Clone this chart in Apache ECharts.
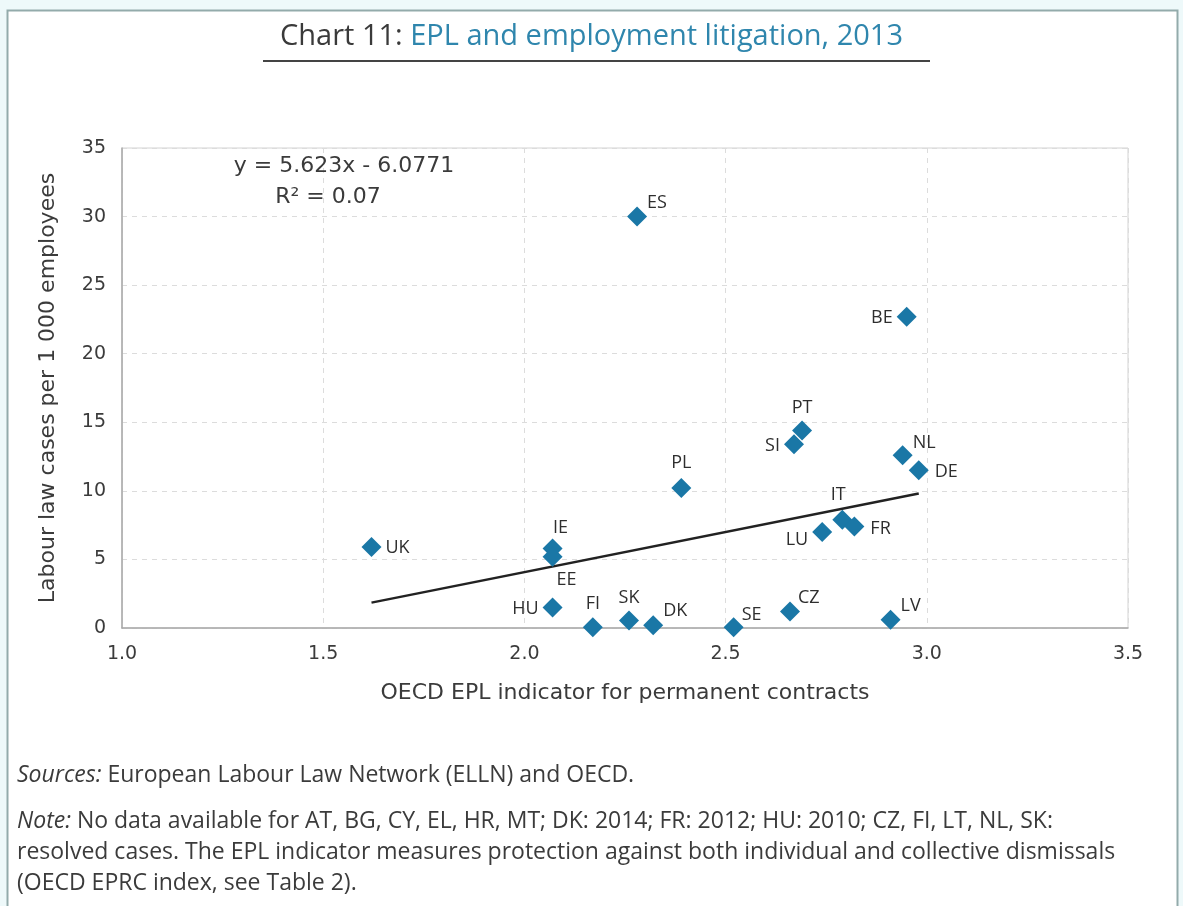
<!DOCTYPE html>
<html lang="en">
<head>
  <meta charset="UTF-8">
  <title>EPL and employment litigation, 2013</title>
  <style>
    body, html {
      margin: 0;
      padding: 0;
      background: #eef9fa;
    }
    #main {
      width: 1183px;
      height: 906px;
    }
  </style>
</head>
<body>
  <div id="main"></div>
  <script src="https://cdn.jsdelivr.net/npm/echarts@6/dist/echarts.min.js"></script>
  <script>
    // data
    var countries = ['UK', 'IE', 'EE', 'HU', 'FI', 'SK', 'DK', 'SE', 'CZ', 'LV',
                     'PL', 'SI', 'PT', 'NL', 'DE', 'IT', 'FR', 'LU', 'ES', 'BE'];
    var eplIndex = [1.62, 2.07, 2.07, 2.07, 2.17, 2.26, 2.32, 2.52, 2.66, 2.91,
                    2.39, 2.67, 2.69, 2.94, 2.98, 2.79, 2.82, 2.74, 2.28, 2.95];
    var casesPer1000 = [5.9, 5.8, 5.2, 1.5, 0.05, 0.55, 0.2, 0.05, 1.2, 0.6,
                        10.2, 13.4, 14.4, 12.6, 11.5, 7.9, 7.4, 7.0, 30.0, 22.7];
    var trendX = [1.62, 2.98];
    var trendY = [1.85, 9.8];
    var xTicks = [1.0, 1.5, 2.0, 2.5, 3.0, 3.5];
    var yTicks = [0, 5, 10, 15, 20, 25, 30, 35];

    // where each country label sits around its marker
    var labelSide = {
      UK: ['right', [0, 1]], IE: ['top', [8, 2]], EE: ['bottom', [14, 0]], HU: ['left', [0, 1]],
      FI: ['top', [0, 0]], SK: ['top', [0, 0]], DK: ['right', [-4, -14]], SE: ['right', [-6, -12]],
      CZ: ['right', [-6, -14]], LV: ['right', [-4, -14]], PL: ['top', [0, -2]], SI: ['left', [0, 2]],
      PT: ['top', [0, 0]], NL: ['right', [-4, -12]], DE: ['right', [2, 2]], IT: ['top', [-4, -2]],
      FR: ['right', [2, 2]], LU: ['left', [0, 8]], ES: ['right', [-4, -14]], BE: ['left', [0, 1]]
    };

    var textColor = '#3b3b3b';
    var baseFont = '"Open Sans", sans-serif';
    var wideFont = '"DejaVu Sans", "Open Sans", sans-serif';

    var points = countries.map(function (c, i) {
      var side = labelSide[c];
      return {
        name: c,
        value: [eplIndex[i], casesPer1000[i]],
        label: { position: side[0], offset: side[1] }
      };
    });

    var myChart = echarts.init(document.getElementById('main'));

    var option = {
      backgroundColor: 'transparent',
      animation: false,
      title: {
        text: '{a|Chart 11: }{b|EPL and employment litigation, 2013}',
        left: 'center',
        top: 17,
        textStyle: {
          rich: {
            a: { fontSize: 29, fontWeight: 'normal', color: '#3a3a3a', fontFamily: baseFont },
            b: { fontSize: 29, fontWeight: 'normal', color: '#2f86ad', fontFamily: baseFont }
          }
        }
      },
      grid: {
        left: 122,
        right: 55,
        top: 148,
        bottom: 278,
        show: true,
        borderColor: '#d2d2d2',
        borderWidth: 1,
        backgroundColor: '#fff'
      },
      xAxis: {
        type: 'value',
        min: xTicks[0],
        max: xTicks[xTicks.length - 1],
        interval: 0.5,
        name: 'OECD EPL indicator for permanent contracts',
        nameLocation: 'middle',
        nameGap: 54,
        nameTextStyle: { fontSize: 22, color: textColor, fontFamily: wideFont },
        axisLine: { lineStyle: { color: '#a8a8a8', width: 1.5 } },
        axisTick: { show: false },
        axisLabel: {
          margin: 17,
          fontSize: 19,
          color: textColor,
          fontFamily: wideFont,
          formatter: function (v) { return v.toFixed(1); }
        },
        splitLine: { lineStyle: { type: [5, 5], color: '#dcdcdc' } }
      },
      yAxis: {
        type: 'value',
        min: yTicks[0],
        max: yTicks[yTicks.length - 1],
        interval: 5,
        name: 'Labour law cases per 1 000 employees',
        nameLocation: 'middle',
        nameGap: 63,
        nameTextStyle: { fontSize: 22, color: textColor, fontFamily: wideFont },
        axisLine: { show: true, lineStyle: { color: '#a8a8a8', width: 1.5 } },
        axisTick: { show: false },
        axisLabel: { margin: 16, fontSize: 19, color: textColor, fontFamily: wideFont },
        splitLine: { lineStyle: { type: [5, 5], color: '#dcdcdc' } }
      },
      series: [
        {
          name: 'Trend',
          type: 'line',
          data: trendX.map(function (x, i) { return [x, trendY[i]]; }),
          symbol: 'none',
          lineStyle: { color: '#222', width: 2.5 },
          z: 2
        },
        {
          name: 'Countries',
          type: 'scatter',
          symbol: 'diamond',
          symbolSize: 20,
          itemStyle: { color: '#1a77a6', opacity: 1 },
          label: {
            show: true,
            formatter: '{b}',
            distance: 4,
            fontSize: 18,
            color: '#2e2e2e',
            fontFamily: baseFont
          },
          data: points,
          z: 3
        }
      ],
      graphic: [
        // outer frame
        { type: 'rect', shape: { x: 7.5, y: 10.5, width: 1170, height: 920 },
          style: { fill: '#fff', stroke: '#93abab', lineWidth: 2 }, z: -10, silent: true },
        // title underline
        { type: 'line', shape: { x1: 263, y1: 61, x2: 930, y2: 61 },
          style: { stroke: '#444', lineWidth: 2 } },
        // regression equation
        { type: 'text', x: 344, y: 166, style: { text: 'y = 5.623x - 6.0771', fill: textColor,
          font: '22px ' + wideFont, align: 'center', verticalAlign: 'middle' }, z: 10 },
        { type: 'text', x: 328, y: 197, style: { text: 'R² = 0.07', fill: textColor,
          font: '22px ' + wideFont, align: 'center', verticalAlign: 'middle' }, z: 10 },
        // footer
        { type: 'text', x: 17, y: 775, style: {
          text: '{i|Sources:} European Labour Law Network (ELLN) and OECD.',
          verticalAlign: 'middle',
          font: '23px ' + baseFont, fill: textColor,
          rich: { i: { fontStyle: 'italic', fontSize: 23, fontFamily: baseFont, fill: textColor } } } },
        { type: 'text', x: 17, y: 821, style: {
          text: '{i|Note:} No data available for AT, BG, CY, EL, HR, MT; DK: 2014; FR: 2012; HU: 2010; CZ, FI, LT, NL, SK:',
          verticalAlign: 'middle',
          font: '23px ' + baseFont, fill: textColor,
          rich: { i: { fontStyle: 'italic', fontSize: 23, fontFamily: baseFont, fill: textColor } } } },
        { type: 'text', x: 17, y: 852, style: {
          text: 'resolved cases. The EPL indicator measures protection against both individual and collective dismissals',
          verticalAlign: 'middle', font: '23px ' + baseFont, fill: textColor } },
        { type: 'text', x: 17, y: 883, style: {
          text: '(OECD EPRC index, see Table 2).',
          verticalAlign: 'middle', font: '23px ' + baseFont, fill: textColor } }
      ]
    };

    myChart.setOption(option);
  </script>
</body>
</html>
